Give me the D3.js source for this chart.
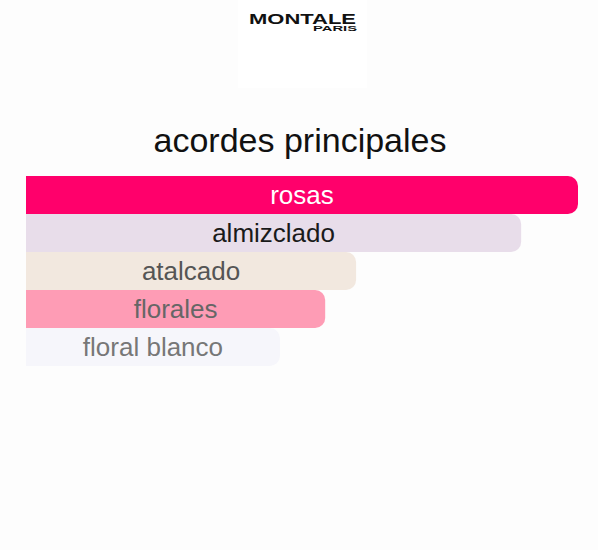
<!DOCTYPE html>
<html>
<head>
<meta charset="utf-8">
<script src="https://cdn.jsdelivr.net/npm/d3@7"></script>
<style>
  body { margin: 0; background: #fdfdfd; }
  svg { display: block; }
</style>
</head>
<body>
<svg id="mainFrame"></svg>
<script>
// accords, their share (rosas = 100) and the colours used on the page
const accords = ['rosas', 'almizclado', 'atalcado', 'florales', 'floral blanco'];
const shares = [100, 89.7, 59.8, 54.2, 46];
const barColors = ['#ff006b', '#e8ddea', '#f2e8df', '#fe9cb5', '#f6f6fb'];
const labelColors = ['#ffffff', '#1a1a1a', '#555555', '#666666', '#777777'];

const width = 598, height = 550;

const svg = d3.select('#mainFrame')
    .attr('width', width)
    .attr('height', height);

svg.append('rect')
    .attr('width', width)
    .attr('height', height)
    .attr('fill', '#fdfdfd');

// brand block at the top
const logo = svg.append('g').attr('id', 'logo');
logo.append('rect')
    .attr('x', 238).attr('y', 0)
    .attr('width', 129).attr('height', 88)
    .attr('fill', '#ffffff');
logo.append('text')
    .attr('x', 249).attr('y', 24)
    .attr('font-family', 'Arial, "Liberation Sans", sans-serif')
    .attr('font-weight', 'bold')
    .attr('font-size', 14)
    .attr('textLength', 107)
    .attr('lengthAdjust', 'spacingAndGlyphs')
    .attr('fill', '#111')
    .text('MONTALE');
logo.append('text')
    .attr('x', 313).attr('y', 31)
    .attr('font-family', 'Arial, "Liberation Sans", sans-serif')
    .attr('font-weight', 'bold')
    .attr('font-size', 8)
    .attr('textLength', 44)
    .attr('lengthAdjust', 'spacingAndGlyphs')
    .attr('fill', '#111')
    .text('PARIS');

svg.append('text')
    .attr('x', 300).attr('y', 152)
    .attr('text-anchor', 'middle')
    .attr('font-family', '"Liberation Sans", Arial, sans-serif')
    .attr('font-size', 34)
    .attr('fill', '#111')
    .text('acordes principales');

// bar chart
const margin = {left: 26, top: 176};
const x = d3.scaleLinear().domain([0, 100]).range([0, 552]);
const y = d3.scaleBand().domain(accords).range([0, 190]).padding(0);

const data = accords.map((name, i) => ({
    name, share: shares[i], color: barColors[i], label: labelColors[i]
}));

const r = 10;
// square on the left, rounded on the right
const barPath = d => {
    const w = x(d.share), h = y.bandwidth();
    return `M0,0 H${w - r} A${r},${r} 0 0 1 ${w},${r} V${h - r} A${r},${r} 0 0 1 ${w - r},${h} H0 Z`;
};

const bars = svg.append('g')
    .attr('transform', `translate(${margin.left},${margin.top})`)
    .selectAll('g.entry')
    .data(data)
    .join('g')
    .attr('class', 'entry')
    .attr('transform', d => `translate(0,${y(d.name)})`);

bars.append('path')
    .attr('d', barPath)
    .attr('fill', d => d.color);

bars.append('text')
    .attr('x', d => x(d.share) / 2)
    .attr('y', y.bandwidth() / 2)
    .attr('dy', '0.35em')
    .attr('text-anchor', 'middle')
    .attr('font-family', '"Liberation Sans", Arial, sans-serif')
    .attr('font-size', 26)
    .attr('fill', d => d.label)
    .text(d => d.name);
</script>
</body>
</html>
